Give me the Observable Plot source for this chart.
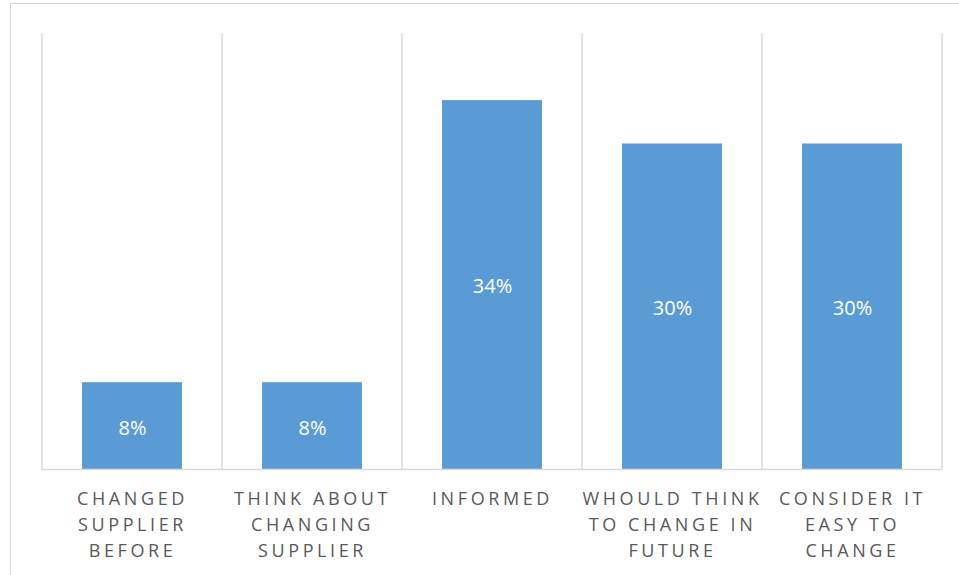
<!DOCTYPE html>
<html>
<head>
<meta charset="utf-8">
<script src="https://cdn.jsdelivr.net/npm/d3@7"></script>
<script src="https://cdn.jsdelivr.net/npm/@observablehq/plot@0.6"></script>
<style>
  html, body { margin: 0; padding: 0; background: #fff; overflow: hidden; }
  #wrap { position: relative; width: 959px; height: 575px; }
  #frame { position: absolute; left: 10px; top: 3px; width: 960px; height: 600px;
           border-top: 1px solid #d9d9d9; border-left: 1px solid #d9d9d9; pointer-events: none; }
  g[aria-label="x-axis tick label"] text { letter-spacing: 3.6px; }
</style>
</head>
<body>
<div id="wrap"><div id="frame"></div></div>
<script>
const categories = ["CHANGED SUPPLIER BEFORE", "THINK ABOUT CHANGING SUPPLIER", "INFORMED", "WHOULD THINK TO CHANGE IN FUTURE", "CONSIDER IT EASY TO CHANGE"];
const tickLabels = ["CHANGED\nSUPPLIER\nBEFORE", "THINK ABOUT\nCHANGING\nSUPPLIER", "INFORMED", "WHOULD THINK\nTO CHANGE IN\nFUTURE", "CONSIDER IT\nEASY TO\nCHANGE"];
const values = [8, 8, 34, 30, 30];
const yMax = 40;

const data = categories.map((c, i) => ({category: c, value: values[i]}));
const labelOf = new Map(categories.map((c, i) => [c, tickLabels[i]]));

const chart = Plot.plot({
  width: 959,
  height: 575,
  marginLeft: 41,
  marginRight: 17,
  marginTop: 35,
  marginBottom: 106,
  style: {fontFamily: "'Open Sans', sans-serif", background: "transparent"},
  x: {domain: categories, paddingInner: 0.445, paddingOuter: 0.2225, align: 0.5, label: null},
  y: {domain: [0, yMax], label: null, axis: null},
  marks: [
    Plot.barY(data, {x: "category", y: "value", fill: "#5b9bd5"}),
    Plot.ruleY([0], {stroke: "#d9d9d9", strokeWidth: 1.5}),
    Plot.text(data, {x: "category", y: d => d.value / 2, text: d => `${d.value}%`, dy: 2,
      fill: "white", fontSize: 20, fontFamily: "'Open Sans', sans-serif"}),
    Plot.axisX({tickSize: 0, tickPadding: 17, fontSize: 18, lineHeight: 1.444,
      fill: "#595959", tickFormat: d => labelOf.get(d), label: null})
  ]
});

// vertical category separators at band boundaries, derived from the plot's x scale
const xs = chart.scale("x");
const ys = chart.scale("y");
const gap = xs.step - xs.bandwidth;
const bounds = categories.map(c => xs.apply(c) - gap / 2);
bounds.push(xs.apply(categories[categories.length - 1]) + xs.bandwidth + gap / 2);
d3.select(chart).insert("g", ":first-child")
  .selectAll("line").data(bounds).join("line")
  .attr("x1", d => d).attr("x2", d => d)
  .attr("y1", ys.apply(yMax) - 2).attr("y2", ys.apply(0))
  .attr("stroke", "#d9d9d9").attr("stroke-width", 1.5);

d3.select(chart).style("position", "absolute").style("left", "0px").style("top", "0px");
document.getElementById("wrap").insertBefore(chart, document.getElementById("frame"));
</script>
</body>
</html>
